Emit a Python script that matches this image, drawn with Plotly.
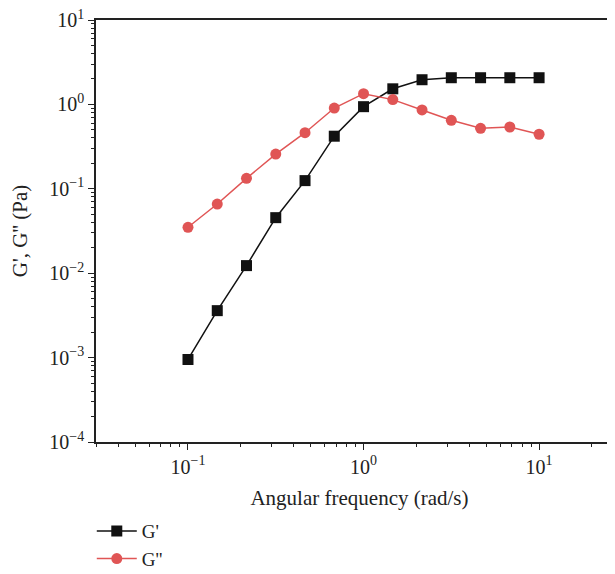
import plotly.graph_objects as go

freq = [0.1, 0.1468, 0.2154, 0.3162, 0.4642, 0.6813, 1.0, 1.468, 2.154, 3.162, 4.642, 6.813, 10.0]
g_storage = [0.00095, 0.0036, 0.0123, 0.0455, 0.125, 0.42, 0.94, 1.53, 1.96, 2.07, 2.07, 2.07, 2.07]
g_loss = [0.035, 0.066, 0.133, 0.258, 0.462, 0.906, 1.34, 1.14, 0.86, 0.648, 0.521, 0.540, 0.443]

x_tickvals = [0.1, 1, 10]
x_ticktext = ["10<sup>−1</sup>", "10<sup>0</sup>", "10<sup>1</sup>"]
y_tickvals = [1e-4, 1e-3, 1e-2, 1e-1, 1, 10]
y_ticktext = ["10<sup>−4</sup>", "10<sup>−3</sup>", "10<sup>−2</sup>", "10<sup>−1</sup>", "10<sup>0</sup>", "10<sup>1</sup>"]

FONT = "Liberation Serif"
BLACK = "#111111"
RED = "#e05555"
TXT = "#222222"

def minor_vals(lo, hi):
    vals = []
    for e in range(lo, hi + 1):
        for m in range(2, 10):
            vals.append(m * 10 ** e)
    return vals

fig = go.Figure()
fig.add_trace(go.Scatter(
    x=freq, y=g_storage, mode="lines+markers", name="G'",
    legendgroup="a",
    line=dict(color=BLACK, width=1.5),
    marker=dict(symbol="square", size=11, color=BLACK),
))
fig.add_trace(go.Scatter(
    x=freq, y=g_loss, mode="lines+markers", name="G''",
    legendgroup="b",
    line=dict(color=RED, width=1.5),
    marker=dict(symbol="circle", size=11, color=RED),
))

axis_common = dict(
    type="log",
    showgrid=False,
    zeroline=False,
    showline=True,
    linecolor=TXT,
    linewidth=1.5,
    mirror=True,
    ticks="outside",
    ticklen=6,
    tickwidth=1.2,
    tickcolor=TXT,
    tickmode="array",
    ticklabeloverflow="allow",
    tickfont=dict(family=FONT, size=20, color=TXT),
)

fig.update_xaxes(
    **axis_common,
    range=[-1.524, 1.478],
    tickvals=x_tickvals,
    ticktext=x_ticktext,
    minor=dict(tickmode="array", tickvals=minor_vals(-2, 1), ticks="outside",
               ticklen=3, tickwidth=1, tickcolor=TXT, showgrid=False),
    title=dict(text="Angular frequency (rad/s)", font=dict(family=FONT, size=21, color=TXT), standoff=14),
)
fig.update_yaxes(
    **axis_common,
    range=[-4, 1],
    tickvals=y_tickvals,
    ticktext=y_ticktext,
    minor=dict(tickmode="array", tickvals=minor_vals(-4, 0), ticks="outside",
               ticklen=3, tickwidth=1, tickcolor=TXT, showgrid=False),
    title=dict(text="G', G'' (Pa)", font=dict(family=FONT, size=21, color=TXT), standoff=16),
)

fig.update_layout(
    width=615, height=574,
    margin=dict(l=88, r=0, t=12, b=140, autoexpand=False),
    plot_bgcolor="white", paper_bgcolor="white",
    showlegend=True,
    legend=dict(x=-0.008, y=-0.166, xanchor="left", yanchor="top",
                font=dict(family=FONT, size=19, color=TXT),
                itemwidth=40,
                tracegroupgap=0, bgcolor="rgba(0,0,0,0)"),
)

fig.write_html("out.html")
